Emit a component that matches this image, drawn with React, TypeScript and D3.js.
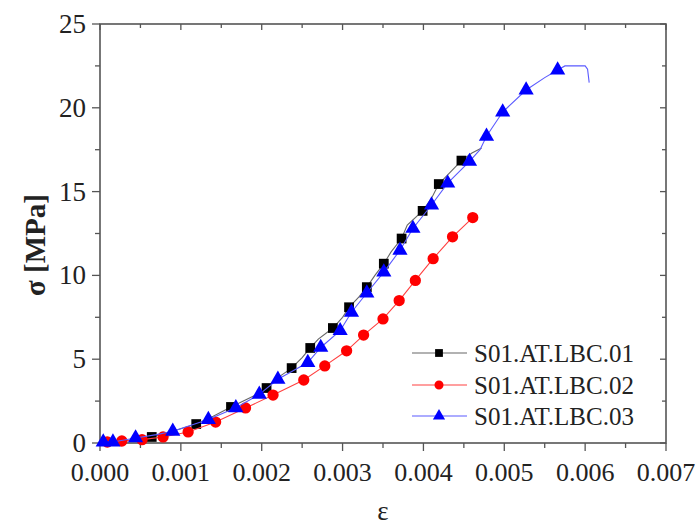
import React from "react";
import * as d3 from "d3";

const xTicks = [0, 0.001, 0.002, 0.003, 0.004, 0.005, 0.006, 0.007];
const yTicks = [0, 5, 10, 15, 20, 25];
const seriesNames = ["S01.AT.LBC.01", "S01.AT.LBC.02", "S01.AT.LBC.03"];

const line01: [number, number][] = [
  [0, 0.05], [0.0003, 0.1], [0.00064, 0.36], [0.0009, 0.7], [0.00119, 1.13], [0.0014, 1.6],
  [0.00162, 2.15], [0.0019, 2.8], [0.00206, 3.28], [0.0022, 3.9], [0.00237, 4.47], [0.0025, 5.1],
  [0.0026, 5.67], [0.0027, 6.2], [0.00288, 6.86], [0.003, 7.5], [0.00308, 8.1], [0.0032, 8.7],
  [0.0033, 9.3], [0.0034, 10.0], [0.00351, 10.7], [0.0036, 11.4], [0.00373, 12.2], [0.0038, 13.0],
  [0.00399, 13.85], [0.0041, 14.6], [0.00419, 15.45], [0.0043, 16.0], [0.00447, 16.85], [0.0046, 17.3],
  [0.00472, 17.6],
];
const marks01: [number, number][] = [
  [0.00064, 0.36], [0.00119, 1.13], [0.00162, 2.15], [0.00206, 3.28], [0.00237, 4.47], [0.0026, 5.67],
  [0.00288, 6.86], [0.00308, 8.1], [0.0033, 9.3], [0.00351, 10.7], [0.00373, 12.2], [0.00399, 13.85],
  [0.00419, 15.45], [0.00447, 16.85],
];

const line02: [number, number][] = [
  [0, 0.05], [0.00009, 0.06], [0.00027, 0.12], [0.00052, 0.2], [0.00078, 0.36], [0.00109, 0.66],
  [0.00143, 1.25], [0.0018, 2.09], [0.00214, 2.86], [0.00252, 3.76], [0.00278, 4.6], [0.00305, 5.5],
  [0.00326, 6.44], [0.0035, 7.4], [0.0037, 8.5], [0.0039, 9.7], [0.00412, 11.0], [0.00436, 12.3],
  [0.00461, 13.45],
];
const marks02: [number, number][] = [
  [0.00009, 0.06], [0.00027, 0.12], [0.00052, 0.2], [0.00078, 0.36], [0.00109, 0.66],
  [0.00143, 1.25], [0.0018, 2.09], [0.00214, 2.86], [0.00252, 3.76], [0.00278, 4.6], [0.00305, 5.5],
  [0.00326, 6.44], [0.0035, 7.4], [0.0037, 8.5], [0.0039, 9.7], [0.00412, 11.0], [0.00436, 12.3],
  [0.00461, 13.45],
];

const line03: [number, number][] = [
  [0, 0.05], [0.00004, 0.06], [0.00016, 0.06], [0.00044, 0.3], [0.0007, 0.5], [0.0009, 0.7],
  [0.00134, 1.4], [0.00168, 2.1], [0.00197, 2.9], [0.0022, 3.8], [0.00257, 4.8], [0.00273, 5.7],
  [0.00297, 6.7], [0.00311, 7.8], [0.0033, 8.95], [0.00351, 10.2], [0.00371, 11.5], [0.00387, 12.8],
  [0.0041, 14.2], [0.0043, 15.5], [0.00457, 16.8], [0.0047, 17.5], [0.00478, 18.3], [0.00498, 19.75],
  [0.00527, 21.06], [0.0055, 21.8], [0.00566, 22.25], [0.00575, 22.5], [0.006, 22.5], [0.00603, 22.3],
  [0.00605, 21.5],
];
const marks03: [number, number][] = [
  [0.00004, 0.06], [0.00016, 0.06], [0.00044, 0.3], [0.0009, 0.7], [0.00134, 1.4], [0.00168, 2.1],
  [0.00197, 2.9], [0.0022, 3.8], [0.00257, 4.8], [0.00273, 5.7], [0.00297, 6.7], [0.00311, 7.8],
  [0.0033, 8.95], [0.00351, 10.2], [0.00371, 11.5], [0.00387, 12.8], [0.0041, 14.2], [0.0043, 15.5],
  [0.00457, 16.8], [0.00478, 18.3], [0.00498, 19.75], [0.00527, 21.06], [0.00566, 22.25],
];

const W = 699, H = 527;
const L = 100, R = 666, T = 24, B = 443;
const FONT = "'Liberation Serif', 'Times New Roman', serif";
const AXC = "#555";

export default function App() {
  const x = d3.scaleLinear().domain([0, 0.007]).range([L, R]);
  const y = d3.scaleLinear().domain([0, 25]).range([B, T]);
  const line = d3.line<[number, number]>().x(d => x(d[0])).y(d => y(d[1]));
  const sq = d3.symbol().type(d3.symbolSquare).size(95)();
  const circ = d3.symbol().type(d3.symbolCircle).size(100)();
  const tri = d3.symbol().type(d3.symbolTriangle).size(100)();

  const xMinor = d3.range(0, 0.0070001, 0.0005);
  const yMinor = d3.range(0, 25.001, 2.5);

  const series = [
    { line: line01, marks: marks01, lc: "#666", mc: "#000", sym: sq },
    { line: line02, marks: marks02, lc: "#ff4040", mc: "#ff0000", sym: circ },
    { line: line03, marks: marks03, lc: "#5a5aff", mc: "#0000ff", sym: tri },
  ];

  const legY = [353, 385, 416];

  return (
    <svg width={W} height={H} style={{ position: "absolute", left: 0, top: 0, background: "#fff" }}>
      <rect x={0} y={0} width={W} height={H} fill="#fff" />
      {/* ticks */}
      {xMinor.map((v, i) => {
        const major = i % 2 === 0;
        return (
          <g key={"xt" + i}>
            <line x1={x(v)} x2={x(v)} y1={B} y2={B + (major ? 8 : 5)} stroke={AXC} strokeWidth={1.3} />
            <line x1={x(v)} x2={x(v)} y1={T} y2={T + (major ? 6 : 4)} stroke={AXC} strokeWidth={1.3} />
          </g>
        );
      })}
      {yMinor.map((v, i) => {
        const major = i % 2 === 0;
        return (
          <g key={"yt" + i}>
            <line x1={L - (major ? 8 : 5)} x2={L} y1={y(v)} y2={y(v)} stroke={AXC} strokeWidth={1.3} />
            <line x1={R - (major ? 6 : 4)} x2={R} y1={y(v)} y2={y(v)} stroke={AXC} strokeWidth={1.3} />
          </g>
        );
      })}
      <rect x={L} y={T} width={R - L} height={B - T} fill="none" stroke={AXC} strokeWidth={1.6} />
      {/* tick labels */}
      {xTicks.map((v, i) => (
        <text key={"xl" + i} x={x(v)} y={481} textAnchor="middle" fontFamily={FONT} fontSize={26} fill="#222">
          {d3.format(".3f")(v)}
        </text>
      ))}
      {yTicks.map((v, i) => (
        <text key={"yl" + i} x={86} y={y(v) + 9} textAnchor="end" fontFamily={FONT} fontSize={27} fill="#222">
          {v}
        </text>
      ))}
      {/* axis titles */}
      <text x={383} y={520} textAnchor="middle" fontFamily={FONT} fontSize={27} fill="#222">ε</text>
      <text transform={`translate(45,245) rotate(-90)`} textAnchor="middle" fontFamily={FONT} fontSize={29} fontWeight="bold" fill="#222">
        σ [MPa]
      </text>
      {/* series */}
      {series.map((s, i) => (
        <g key={"s" + i}>
          <path d={line(s.line) || ""} fill="none" stroke={s.lc} strokeWidth={1.1} />
          {s.marks.map((p, j) => (
            <path key={j} d={s.sym || ""} transform={`translate(${x(p[0])},${y(p[1])})`} fill={s.mc} />
          ))}
        </g>
      ))}
      {/* legend */}
      {series.map((s, i) => (
        <g key={"lg" + i}>
          <line x1={412} x2={467} y1={legY[i]} y2={legY[i]} stroke={s.lc} strokeWidth={1.1} />
          <path d={s.sym || ""} transform={`translate(439,${legY[i]}) scale(0.8)`} fill={s.mc} />
          <text x={474} y={legY[i] + 8.5} fontFamily={FONT} fontSize={25} fill="#222">{seriesNames[i]}</text>
        </g>
      ))}
    </svg>
  );
}
